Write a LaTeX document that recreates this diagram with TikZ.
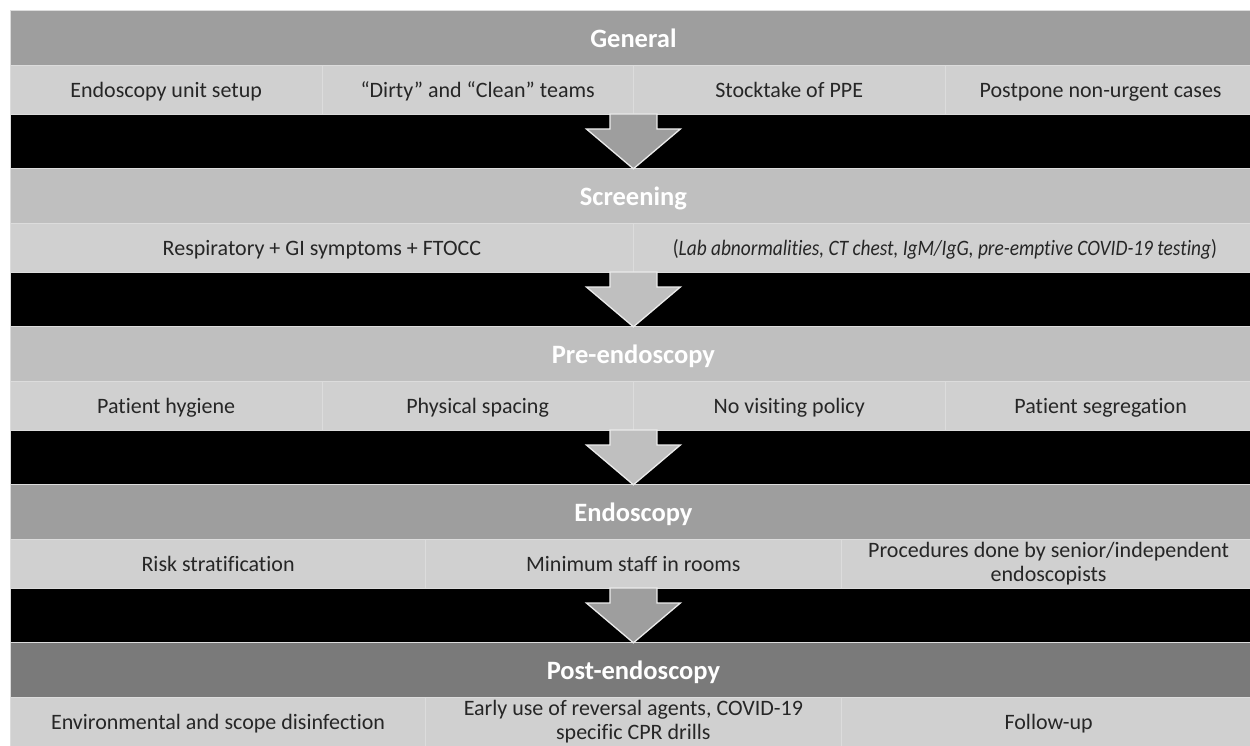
\documentclass[tikz,border=0pt]{standalone}
\usepackage{fontspec}
\setmainfont{Carlito}[Ligatures=NoCommon]
\usetikzlibrary{calc}
\definecolor{hdrMid}{HTML}{9E9E9E}
\definecolor{hdrLight}{HTML}{BFBFBF}
\definecolor{hdrDark}{HTML}{7A7A7A}
\definecolor{cellC}{HTML}{D0D0D0}
\definecolor{rule}{HTML}{DCDCDC}
\tikzset{
  hdr/.style={anchor=north west, minimum width=1246pt, minimum height=55pt, inner sep=0pt,
    draw=rule, line width=0.8pt, text=white, text height=21pt, text depth=2pt,
    font=\fontsize{26.5}{30}\selectfont\bfseries},
  cellbase/.style={anchor=north west, minimum height=49pt, inner sep=0pt, fill=cellC,
    draw=rule, line width=0.8pt, text=black!85, align=center, font=\fontsize{22}{24}\selectfont},
  cell/.style={cellbase, text height=16pt, text depth=1.5pt},
  cellii/.style={cellbase},
  band/.style={anchor=north west, minimum width=1246pt, minimum height=54pt, inner sep=0pt,
    fill=black, draw=rule, line width=0.8pt},
  blockarrow/.style={draw=white!92!black, line width=1.3pt, line join=miter},
}
\newcommand{\blockarr}[2]{%
  \draw[blockarrow, fill=#2] ($(#1.north)+(-23.5,0)$) -- ($(#1.north)+(23.5,0)$) -- ($(#1.north)+(23.5,15)$)
    -- ($(#1.north)+(47,15)$) -- (#1.south) -- ($(#1.north)+(-47,15)$) -- ($(#1.north)+(-23.5,15)$) -- cycle;}
\begin{document}
\begin{tikzpicture}[x=1pt,y=-1pt]
\useasboundingbox[fill=white] (0,0) rectangle (1250,746);
\clip (0,0) rectangle (1250,746);
% ---- General
\node[hdr, fill=hdrMid] (h1) at (10,10) {General};
\node[cell, minimum width=311.5pt] (c11) at (10,65) {Endoscopy unit setup};
\node[cell, minimum width=311.5pt] (c12) at (321.5,65) {“Dirty” and “Clean” teams};
\node[cell, minimum width=311.5pt] (c13) at (633,65) {Stocktake of PPE};
\node[cell, minimum width=311.5pt] (c14) at (944.5,65) {Postpone non-urgent cases};
\node[band] (b1) at (10,114) {};
% ---- Screening
\node[hdr, fill=hdrLight] (h2) at (10,168) {Screening};
\node[cell, minimum width=623pt] (c21) at (10,223) {Respiratory + GI symptoms + FTOCC};
\node[cell, minimum width=623pt] (c22) at (633,223) {\scalebox{0.88}[1]{(\textit{Lab abnormalities, CT chest, IgM/IgG, pre-emptive COVID-19 testing})}};
\node[band] (b2) at (10,272) {};
% ---- Pre-endoscopy
\node[hdr, fill=hdrLight] (h3) at (10,326) {Pre-endoscopy};
\node[cell, minimum width=311.5pt] (c31) at (10,381) {Patient hygiene};
\node[cell, minimum width=311.5pt] (c32) at (321.5,381) {Physical spacing};
\node[cell, minimum width=311.5pt] (c33) at (633,381) {No visiting policy};
\node[cell, minimum width=311.5pt] (c34) at (944.5,381) {Patient segregation};
\node[band] (b3) at (10,430) {};
% ---- Endoscopy
\node[hdr, fill=hdrMid] (h4) at (10,484) {Endoscopy};
\node[cell, minimum width=415.3pt] (c41) at (10,539) {Risk stratification};
\node[cell, minimum width=415.3pt] (c42) at (425.3,539) {Minimum staff in rooms};
\node[cellii, minimum width=415.3pt] (c43) at (840.6,539) {Procedures done by senior/independent\\endoscopists};
\node[band] (b4) at (10,588) {};
% ---- Post-endoscopy
\node[hdr, fill=hdrDark] (h5) at (10,642) {Post-endoscopy};
\node[cell, minimum width=415.3pt] (c51) at (10,697) {Environmental and scope disinfection};
\node[cellii, minimum width=415.3pt] (c52) at (425.3,697) {Early use of reversal agents, COVID-19\\specific CPR drills};
\node[cell, minimum width=415.3pt] (c53) at (840.6,697) {Follow-up};
% ---- arrows
\blockarr{b1}{hdrMid}
\blockarr{b2}{hdrLight}
\blockarr{b3}{hdrLight}
\blockarr{b4}{hdrMid}
\end{tikzpicture}
\end{document}
